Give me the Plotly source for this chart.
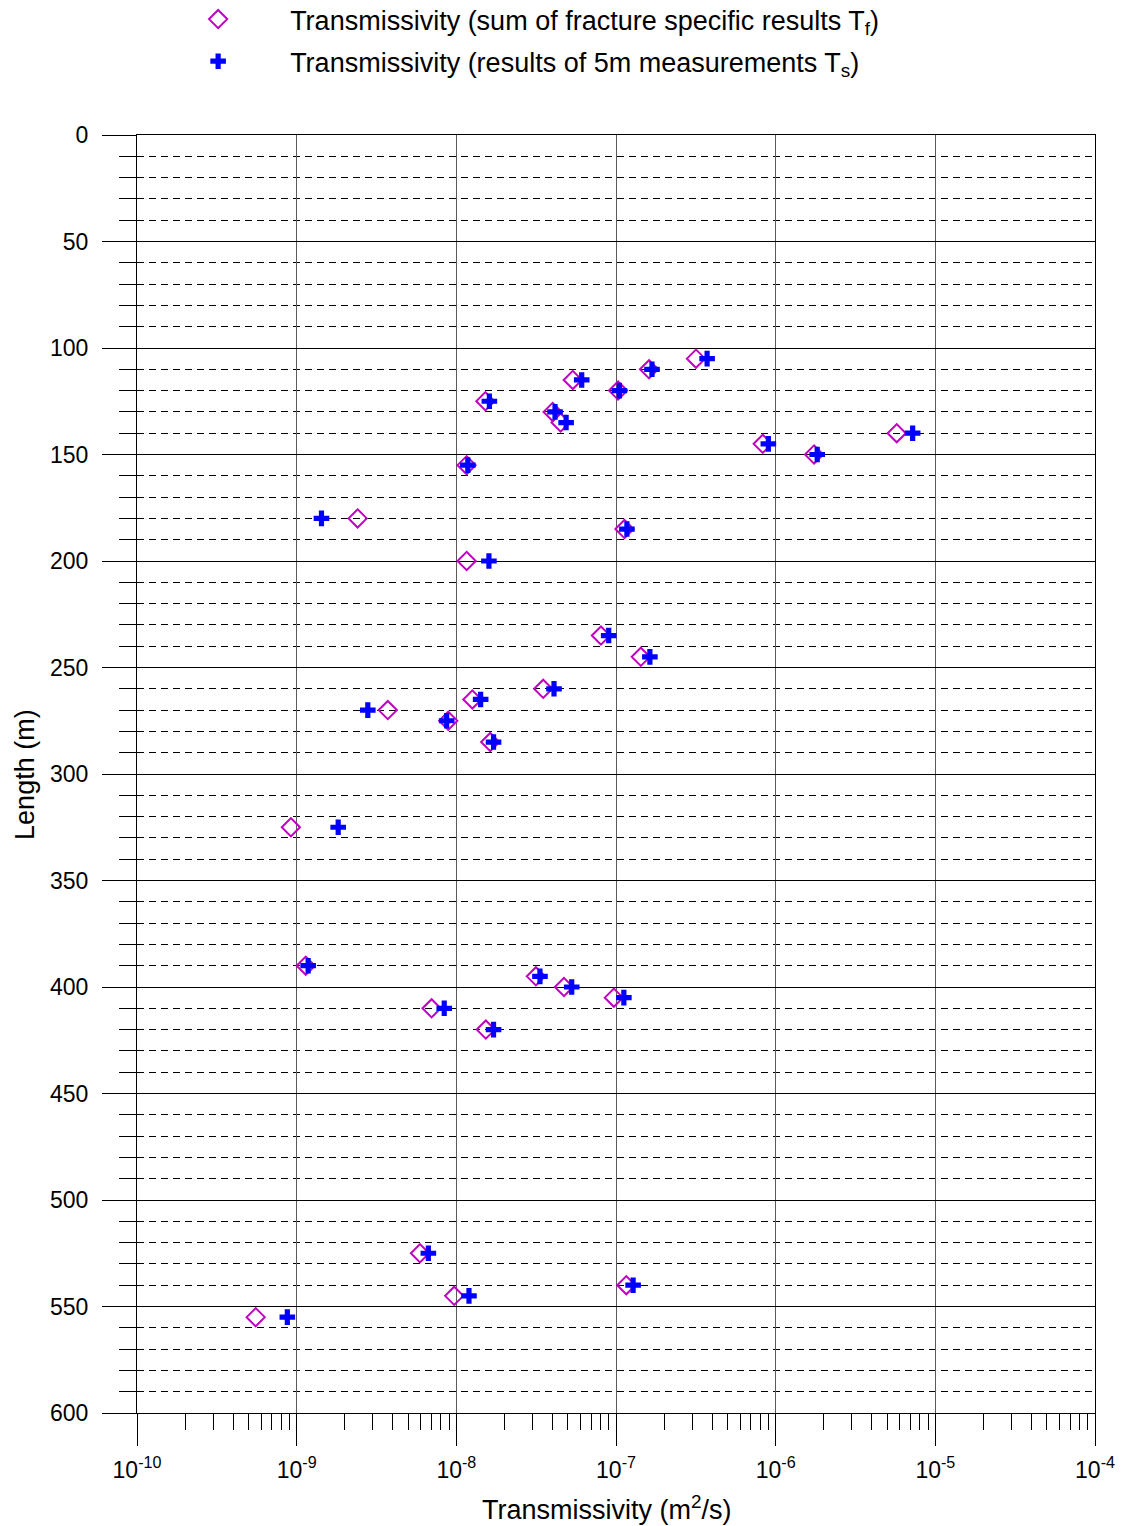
import plotly.graph_objects as go

# depth along borehole (m)
depth = [105, 110, 115, 120, 125, 130, 135, 140, 145, 150, 155, 180, 185, 200,
         235, 245, 260, 265, 270, 275, 285, 325, 390, 395, 400, 405, 410, 420,
         525, 540, 545, 555]

# sum of fracture specific results Tf (m2/s)
t_frac = [3.17e-7, 1.61e-7, 5.36e-8, 1.03e-7, 1.52e-8, 4.01e-8, 4.5e-8, 5.73e-6,
          8.3e-7, 1.74e-6, 1.16e-8, 2.41e-9, 1.13e-7, 1.16e-8, 8.05e-8, 1.43e-7,
          3.5e-8, 1.26e-8, 3.72e-9, 8.9e-9, 1.63e-8, 9.2e-10, 1.14e-9, 3.15e-8,
          4.72e-8, 9.7e-8, 7.0e-9, 1.53e-8, 5.92e-9, 1.16e-7, 9.7e-9, 5.54e-10]

# results of 5m measurements Ts (m2/s)
t_5m = [3.72e-7, 1.68e-7, 6.1e-8, 1.05e-7, 1.61e-8, 4.15e-8, 4.87e-8, 7.21e-6,
        9.0e-7, 1.82e-6, 1.18e-8, 1.43e-9, 1.17e-7, 1.6e-8, 9.0e-8, 1.63e-7,
        4.09e-8, 1.42e-8, 2.79e-9, 8.7e-9, 1.71e-8, 1.82e-9, 1.18e-9, 3.34e-8,
        5.28e-8, 1.12e-7, 8.4e-9, 1.71e-8, 6.68e-9, 1.28e-7, 1.2e-8, 8.74e-10]

# x tick labels (decades)
x_ticks = [1e-10, 1e-9, 1e-8, 1e-7, 1e-6, 1e-5, 1e-4]
x_labels = ["10<sup>-10</sup>", "10<sup>-9</sup>", "10<sup>-8</sup>", "10<sup>-7</sup>",
            "10<sup>-6</sup>", "10<sup>-5</sup>", "10<sup>-4</sup>"]

fig = go.Figure()

fig.add_trace(go.Scatter(
    x=t_frac, y=depth, mode="markers",
    name="Transmissivity (sum of fracture specific results T<sub>f</sub>)",
    legendgroup="a",
    marker=dict(symbol="diamond-open", size=14, color="#C000C0",
                line=dict(width=2, color="#C000C0")),
))

fig.add_trace(go.Scatter(
    x=t_5m, y=depth, mode="markers",
    name="Transmissivity (results of 5m measurements T<sub>s</sub>)",
    legendgroup="b",
    marker=dict(symbol="cross", size=13, color="#0000FF"),
))

fig.update_layout(
    width=1123, height=1526,
    margin=dict(l=129, r=36, t=127, b=121, autoexpand=False),
    paper_bgcolor="white", plot_bgcolor="white",
    font=dict(family="Liberation Sans, Arial", size=23, color="black"),
    legend=dict(
        x=0.123, y=1.1095, xref="container", yref="paper",
        xanchor="left", yanchor="top",
        font=dict(size=27), itemwidth=134, tracegroupgap=4,
        bgcolor="rgba(0,0,0,0)",
    ),
    annotations=[
        dict(text="Length (m)", textangle=-90, showarrow=False,
             xref="paper", yref="paper", x=-0.117, y=0.5,
             xanchor="center", yanchor="middle", font=dict(size=27)),
        dict(text="Transmissivity (m<sup>2</sup>/s)", showarrow=False,
             xref="paper", yref="paper", x=0.4906, y=-0.0743,
             xanchor="center", yanchor="middle", font=dict(size=27)),
    ],
)

fig.update_xaxes(
    type="log", range=[-10, -4], tickmode="array",
    tickvals=x_ticks, ticktext=x_labels, tickangle=0, ticklabelstandoff=4,
    showline=True, linecolor="black", linewidth=1, mirror=True,
    ticks="outside", ticklen=32, tickcolor="black",
    showgrid=True, gridcolor="#5a5a5a", gridwidth=1,
    minor=dict(dtick="D1", ticks="outside", ticklen=16, tickcolor="black", showgrid=False),
    zeroline=False,
)

fig.update_yaxes(
    range=[600, 0], dtick=50,
    showline=True, linecolor="black", linewidth=1, mirror=True,
    ticks="outside", ticklen=34, tickcolor="black", ticklabelstandoff=9,
    showgrid=True, gridcolor="black", gridwidth=1,
    minor=dict(dtick=10, ticks="outside", ticklen=17, tickcolor="black",
               showgrid=True, gridcolor="black", griddash="7px,5px", gridwidth=1),
    zeroline=False,
)

fig.write_html("out.html")
